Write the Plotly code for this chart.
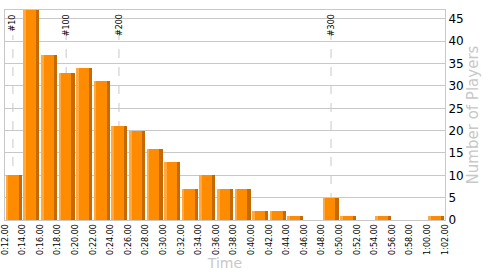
import plotly.graph_objects as go

bin_start = list(range(12, 62, 2))  # minutes
counts = [10, 47, 37, 33, 34, 31, 21, 20, 16, 13, 7, 10, 7, 7, 2, 2, 1, 0, 5, 1, 0, 1, 0, 0, 1]
tick_minutes = list(range(12, 64, 2))
tick_labels = [f"{m // 60}:{m % 60:02d}.00" for m in tick_minutes]
marker_pos = [12.9, 18.95, 24.95, 49.05]
marker_text = ["#10", "#100", "#200", "#300"]

centers = [s + 1 for s in bin_start]

fig = go.Figure()
fig.add_trace(go.Bar(x=centers, y=counts, width=1.8, offset=-0.9,
                     marker=dict(color="#FF8C00", line=dict(width=0)), hoverinfo="skip"))
fig.add_trace(go.Bar(x=centers, y=counts, width=0.28, offset=-0.9,
                     marker=dict(color="#FFA940", line=dict(width=0)), hoverinfo="skip"))
fig.add_trace(go.Bar(x=centers, y=counts, width=0.36, offset=0.9 - 0.36,
                     marker=dict(color="#C46A00", line=dict(width=0)), hoverinfo="skip"))

for xp, t in zip(marker_pos, marker_text):
    fig.add_shape(type="line", x0=xp, x1=xp, y0=0, y1=0.88, xref="x", yref="paper",
                  line=dict(color="#c8c8c8", width=1, dash="dash"), layer="below")
    fig.add_annotation(x=xp, y=0.99, xref="x", yref="paper", text=t, textangle=-90,
                       showarrow=False, yanchor="top", xanchor="center",
                       font=dict(family="DejaVu Sans", size=8, color="#000"))

fig.update_layout(
    width=500, height=275,
    margin=dict(l=5, r=55, t=10, b=55),
    paper_bgcolor="white", plot_bgcolor="white",
    barmode="overlay", bargap=0, showlegend=False,
    font=dict(family="DejaVu Sans"),
)
fig.update_xaxes(range=[12, 62], tickvals=tick_minutes, ticktext=tick_labels, tickangle=-90,
                 tickfont=dict(size=8, color="#000"), showgrid=False, zeroline=False,
                 showline=True, linecolor="#c8c8c8", mirror=True, ticks="", automargin=False,
                 title=dict(text="Time", font=dict(size=14, color="#c8c8c8"), standoff=4))
fig.update_yaxes(range=[0, 47], side="right", tickvals=list(range(0, 50, 5)),
                 tickfont=dict(size=12, color="#000"), showgrid=True, gridcolor="#c8c8c8",
                 zeroline=False, showline=True, linecolor="#c8c8c8", mirror=True, ticks="",
                 automargin=False,
                 title=dict(text="Number of Players", font=dict(size=15, color="#c8c8c8"), standoff=3))

fig.write_html("out.html")
